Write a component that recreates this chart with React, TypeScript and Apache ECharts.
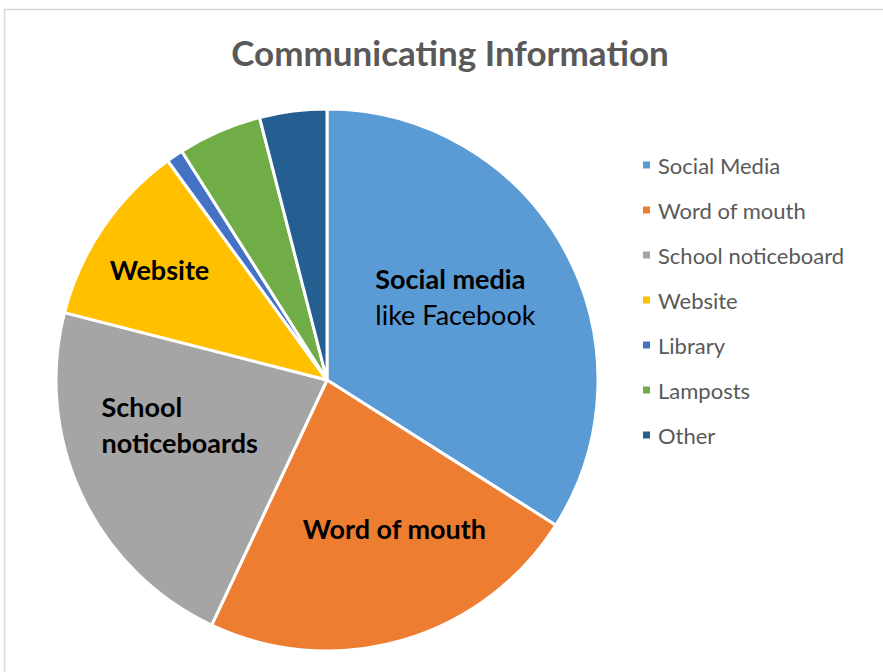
import React, { useEffect, useRef } from "react";
import * as echarts from "echarts";

const categories = ["Social Media", "Word of mouth", "School noticeboard", "Website", "Library", "Lamposts", "Other"];
const values = [34, 23, 22, 11, 1, 5, 4];
const sliceLabels = [
  "{b|Social media}\n{n|like Facebook}",
  "{b|Word of mouth}",
  "{b|School}\n{b|noticeboards}",
  "{b|Website}",
  "",
  "",
  "",
];
const colors = ["#5B9BD5", "#ED7D31", "#A5A5A5", "#FFC000", "#4472C4", "#70AD47", "#255E91"];
const labelShift = [
  [7, -17],
  [29, 15],
  [-22, -14],
  [-53, -33],
  [0, 0],
  [0, 0],
  [0, 0],
];

const FONT = "Lato";

export default function App() {
  const ref = useRef<HTMLDivElement>(null);
  useEffect(() => {
    if (!ref.current) return;
    const chart = echarts.init(ref.current, undefined, { renderer: "svg" });
    chart.setOption({
      animation: false,
      backgroundColor: "#FFFFFF",
      color: colors,
      title: {
        text: "Communicating Information",
        left: 450,
        top: 34,
        padding: 0,
        textAlign: "center",
        textStyle: { fontFamily: FONT, fontWeight: "bold", fontSize: 35, color: "#595959" },
      },
      graphic: [
        {
          type: "rect",
          shape: { x: 4.5, y: 9.5, width: 1000, height: 1000 },
          style: { fill: "none", stroke: "#D9D9D9", lineWidth: 1.5 },
          silent: true,
        },
      ],
      legend: {
        orient: "vertical",
        left: 641,
        top: 154,
        padding: 0,
        itemWidth: 9,
        itemHeight: 9,
        itemGap: 23,
        icon: "rect",
        data: categories,
        textStyle: { fontFamily: FONT, fontSize: 22, color: "#595959", lineHeight: 21, padding: [0, 0, 0, 2] },
      },
      series: [
        {
          type: "pie",
          center: [327, 380],
          radius: 271,
          startAngle: 90,
          clockwise: true,
          itemStyle: { borderColor: "#FFFFFF", borderWidth: 3 },
          labelLine: { show: false },
          label: {
            show: true,
            position: "inside",
            color: "#000000",
            formatter: (p: any) => sliceLabels[p.dataIndex],
            rich: {
              b: { fontFamily: FONT, fontWeight: "bold", fontSize: 27, color: "#000", align: "left", lineHeight: 36 },
              n: { fontFamily: FONT, fontWeight: "normal", fontSize: 27, color: "#000", align: "left", lineHeight: 36 },
            },
          },
          labelLayout: (params: any) => ({
            dx: labelShift[params.dataIndex][0],
            dy: labelShift[params.dataIndex][1],
          }),
          emphasis: { disabled: true },
          data: categories.map((c, i) => ({ name: c, value: values[i] })),
        },
      ],
    });
    return () => chart.dispose();
  }, []);
  return <div ref={ref} style={{ position: "fixed", left: 0, top: 0, width: 883, height: 672 }} />;
}
